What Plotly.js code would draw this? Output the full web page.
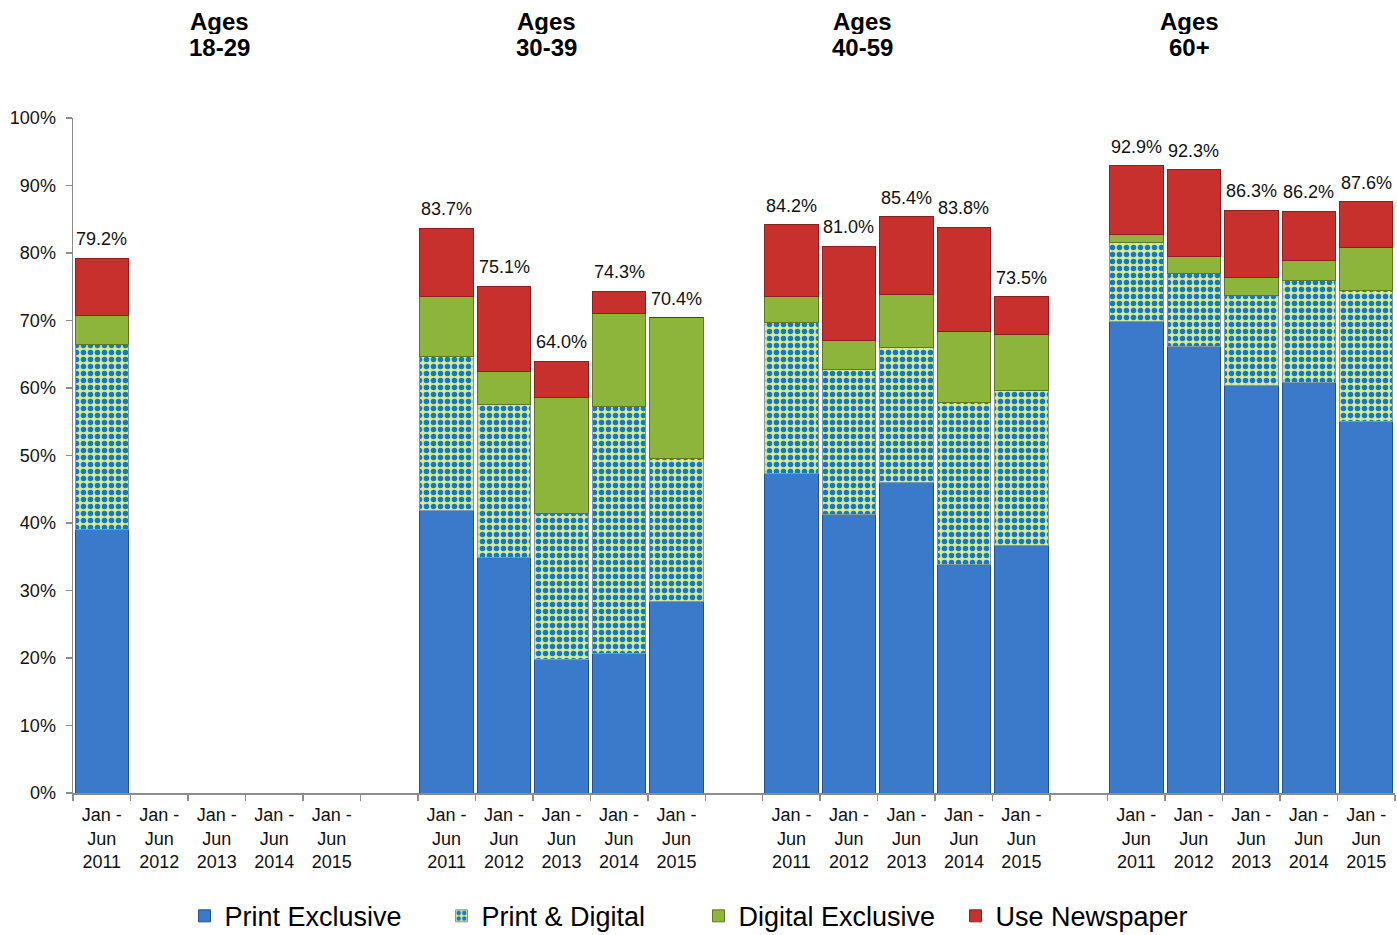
<!DOCTYPE html>
<html>
<head>
<meta charset="utf-8">
<script src="https://cdn.plot.ly/plotly-3.0.1.min.js"></script>
<style>
  html, body { margin: 0; padding: 0; background: #ffffff; }
  #chart { width: 1397px; height: 935px; }
</style>
</head>
<body>
<div id="chart"></div>
<script>
// Age groups (heading line 1 / line 2) and survey periods
const ageWord = ['Ages', 'Ages', 'Ages', 'Ages'];
const ageRanges = ['18-29', '30-39', '40-59', '60+'];
const periods = ['Jan -<br>Jun<br>2011', 'Jan -<br>Jun<br>2012', 'Jan -<br>Jun<br>2013', 'Jan -<br>Jun<br>2014', 'Jan -<br>Jun<br>2015'];

// Share of each age group (%), periods 2011..2015 within each group
const printExclusive = [
  39.1, null, null, null, null,
  41.8, 34.9, 19.8, 20.7, 28.3,
  47.4, 41.3, 46.0, 33.9, 36.7,
  69.8, 66.1, 60.4, 60.8, 55.1
];
const printAndDigital = [
  27.4, null, null, null, null,
  22.8, 22.7, 21.6, 36.5, 21.3,
  22.3, 21.5, 20.0, 23.9, 22.9,
  11.7, 10.8, 13.3, 15.2, 19.4
];
const digitalExclusive = [
  4.2, null, null, null, null,
  8.9, 4.8, 17.2, 13.9, 20.8,
  3.8, 4.2, 7.8, 10.5, 8.3,
  1.2, 2.6, 2.6, 2.9, 6.3
];
const useNewspaper = [
  8.5, null, null, null, null,
  10.2, 12.7, 5.4, 3.2, 0.0,
  10.7, 14.0, 11.6, 15.5, 5.6,
  10.2, 12.8, 10.0, 7.3, 6.8
];

const FONT = 'Arial, Liberation Sans, sans-serif';

// Slot positions: five periods per group, one empty slot between groups
const xPos = [];
const tickText = [];
ageRanges.forEach((g, gi) => {
  periods.forEach((p, pi) => {
    xPos.push(gi * 6 + pi);
    tickText.push(p);
  });
});

// Stack totals, shown above each bar
const totals = xPos.map((_, i) => {
  if (printExclusive[i] === null) return null;
  return printExclusive[i] + printAndDigital[i] + digitalExclusive[i] + useNewspaper[i];
});

const barWidth = 0.93;

const traces = [
  {
    type: 'bar', name: 'Print Exclusive', x: xPos, y: printExclusive, width: barWidth,
    marker: { color: '#3b79ca', line: { color: '#23508c', width: 1 } },
    hoverinfo: 'skip'
  },
  {
    type: 'bar', name: 'Print & Digital', x: xPos, y: printAndDigital, width: barWidth,
    marker: {
      color: '#d6ec8e',
      line: { color: '#7f9ca0', width: 1 },
      pattern: { shape: '.', size: 7, solidity: 0.5, fgcolor: '#1877c2', bgcolor: '#d6ec8e', fillmode: 'replace' }
    },
    hoverinfo: 'skip'
  },
  {
    type: 'bar', name: 'Digital Exclusive', x: xPos, y: digitalExclusive, width: barWidth,
    marker: { color: '#8db43b', line: { color: '#5d7823', width: 1 } },
    hoverinfo: 'skip'
  },
  {
    type: 'bar', name: 'Use Newspaper', x: xPos, y: useNewspaper, width: barWidth,
    marker: { color: '#c8302e', line: { color: '#8a201f', width: 1 } },
    hoverinfo: 'skip'
  }
];

const annotations = [];

// Total labels above the stacks
xPos.forEach((x, i) => {
  if (totals[i] === null) return;
  annotations.push({
    text: totals[i].toFixed(1) + '%',
    x: x, xref: 'x', y: totals[i], yref: 'y',
    xanchor: 'center', yanchor: 'middle', yshift: 19,
    showarrow: false,
    font: { family: FONT, size: 18, color: '#111111' }
  });
});

// Group headings, two tightly spaced lines each
const headingX = [0.111, 0.3585, 0.597, 0.8443];
ageRanges.forEach((r, gi) => {
  annotations.push({
    text: '<b>' + ageWord[gi] + '</b>', x: headingX[gi], xref: 'paper', y: 1.1437, yref: 'paper',
    xanchor: 'center', yanchor: 'middle', showarrow: false, borderpad: 0,
    height: 26, valign: 'middle',
    font: { family: FONT, size: 24, color: '#000000' }
  });
  annotations.push({
    text: '<b>' + r + '</b>', x: headingX[gi], xref: 'paper', y: 1.1052, yref: 'paper',
    xanchor: 'center', yanchor: 'middle', showarrow: false, borderpad: 0,
    height: 26, valign: 'middle',
    font: { family: FONT, size: 24, color: '#000000' }
  });
});

const layout = {
  width: 1397, height: 935,
  margin: { l: 73, r: 2, t: 118, b: 142 },
  paper_bgcolor: '#ffffff', plot_bgcolor: '#ffffff',
  barmode: 'stack',
  showlegend: true,
  font: { family: FONT, size: 18, color: '#111111' },
  xaxis: {
    range: [-0.5, 22.5],
    tickmode: 'array', tickvals: xPos, ticktext: tickText,
    ticks: '', showgrid: false, zeroline: false,
    showline: true, linecolor: '#8c8c8c', linewidth: 1.5,
    ticklabelstandoff: 5,
    tickfont: { family: FONT, size: 18, color: '#111111' },
    minor: { ticks: 'outside', tick0: -0.5, dtick: 1, ticklen: 6, tickcolor: '#8c8c8c', tickwidth: 1.5, showgrid: false }
  },
  yaxis: {
    range: [0, 100], dtick: 10, ticksuffix: '%',
    ticks: 'outside', ticklen: 6, tickcolor: '#8c8c8c', tickwidth: 1.5,
    ticklabelstandoff: 6,
    showgrid: false, zeroline: false,
    showline: true, linecolor: '#8c8c8c', linewidth: 1.5,
    tickfont: { family: FONT, size: 18, color: '#111111' }
  },
  legend: {
    orientation: 'h', traceorder: 'normal',
    x: 0.5, xref: 'container', xanchor: 'center',
    y: 0.02, yref: 'container', yanchor: 'middle',
    font: { family: FONT, size: 27, color: '#000000' },
    itemwidth: 30,
    entrywidth: 212, entrywidthmode: 'pixels'
  },
  annotations: annotations
};

Plotly.newPlot('chart', traces, layout, { displayModeBar: false, staticPlot: true });
</script>
</body>
</html>
